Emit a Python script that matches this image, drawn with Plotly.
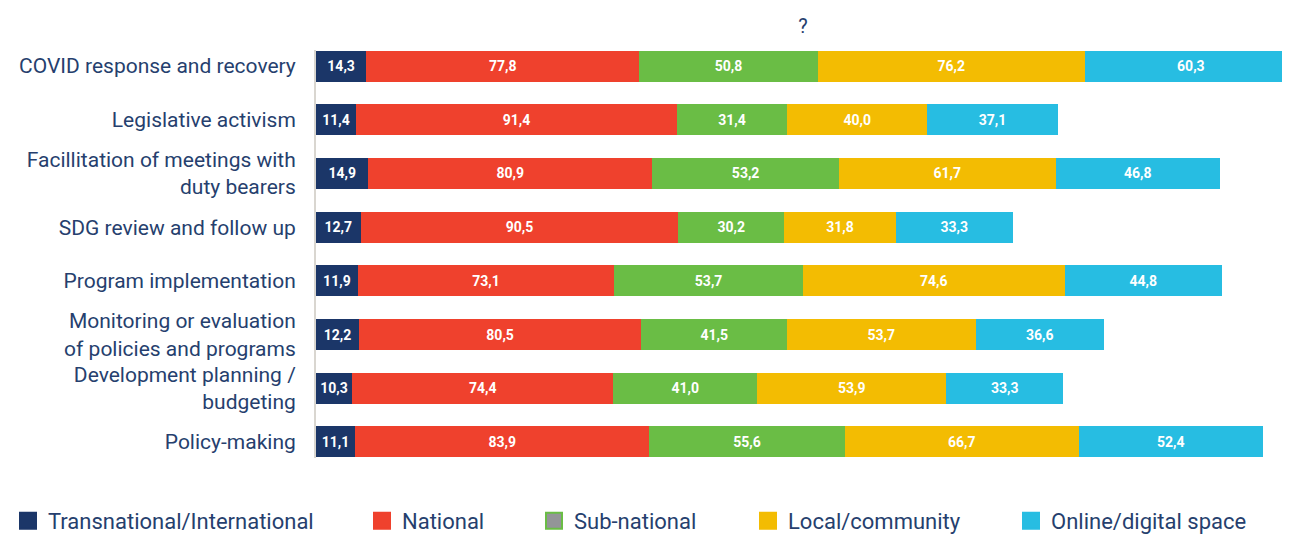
import plotly.graph_objects as go

categories = [
    "COVID response and recovery",
    "Legislative activism",
    "Facillitation of meetings with<br>duty bearers",
    "SDG review and follow up",
    "Program implementation",
    "Monitoring or evaluation<br>of policies and programs",
    "Development planning /<br>budgeting",
    "Policy-making",
]
series_names = ["Transnational/International", "National", "Sub-national",
                "Local/community", "Online/digital space"]
transnational = [14.3, 11.4, 14.9, 12.7, 11.9, 12.2, 10.3, 11.1]
national = [77.8, 91.4, 80.9, 90.5, 73.1, 80.5, 74.4, 83.9]
subnational = [50.8, 31.4, 53.2, 30.2, 53.7, 41.5, 41.0, 55.6]
local = [76.2, 40.0, 61.7, 31.8, 74.6, 53.7, 53.9, 66.7]
online = [60.3, 37.1, 46.8, 33.3, 44.8, 36.6, 33.3, 52.4]
values = [transnational, national, subnational, local, online]

colors = ["#1b3668", "#ef412d", "#6abd45", "#f3bc02", "#27bde2"]
legend_fill = ["#1b3668", "#ef412d", "#939598", "#f3bc02", "#27bde2"]
legend_line = ["#1b3668", "#ef412d", "#6abd45", "#f3bc02", "#27bde2"]
navy = "#263f6e"

# page body has an 8px margin: the figure is sized to fit the window
OFF = 8
FW, FH = 1290 - OFF, 534 - OFF

fig = go.Figure()
for name, vals, col in zip(series_names, values, colors):
    fig.add_trace(go.Bar(
        y=categories, x=vals, orientation="h", name=name,
        marker=dict(color=col, line=dict(width=0)),
        texttemplate="%{x:.1f}", textposition="inside",
        insidetextanchor="middle", textangle=0,
        textfont=dict(family="Roboto", size=14, color="white", weight="bold"),
        showlegend=False, width=0.58,
    ))

# legend entries
legend_ids = ["legend", "legend2", "legend3", "legend4", "legend5"]
legend_px = [15, 371, 543, 757, 1020]
L, R, T, B = 316 - OFF, 0, 50 - OFF, 534 - 458
for i, name in enumerate(series_names):
    fig.add_trace(go.Scatter(
        x=[None], y=[None], mode="markers", name=name,
        marker=dict(symbol="square", size=16, color=legend_fill[i],
                    line=dict(color=legend_line[i], width=2)),
        legend=legend_ids[i], showlegend=True,
    ))

legend_common = dict(orientation="h", yanchor="middle", y=1 - (521 - OFF) / FH,
                     xanchor="left", xref="container", yref="container",
                     font=dict(family="Roboto", size=22, color=navy),
                     bgcolor="rgba(0,0,0,0)", borderwidth=0)
layout_legends = {}
for i, lid in enumerate(legend_ids):
    d = dict(legend_common)
    d["x"] = (legend_px[i] - OFF - 9) / FW
    layout_legends[lid] = d

fig.update_layout(
    width=FW, height=FH,
    margin=dict(l=L, r=R, t=T, b=B, pad=0, autoexpand=False),
    paper_bgcolor="white", plot_bgcolor="white",
    barmode="stack",
    separators=",.",
    font=dict(family="Roboto", color=navy),
    title=dict(text="?", x=0.5, xref="paper", xanchor="center",
               y=1 - (25.5 - OFF) / FH, yanchor="middle",
               font=dict(family="Roboto", size=20, color=navy)),
    xaxis=dict(range=[0, 277.5], visible=False, fixedrange=True),
    yaxis=dict(range=[7.3, -0.3], showgrid=False, showline=True,
               linecolor="#d9d6d0", linewidth=2, ticks="", ticklabelstandoff=14,
               tickfont=dict(family="Roboto", size=21, color=navy)),
    **layout_legends,
)

fig.write_html("out.html")
